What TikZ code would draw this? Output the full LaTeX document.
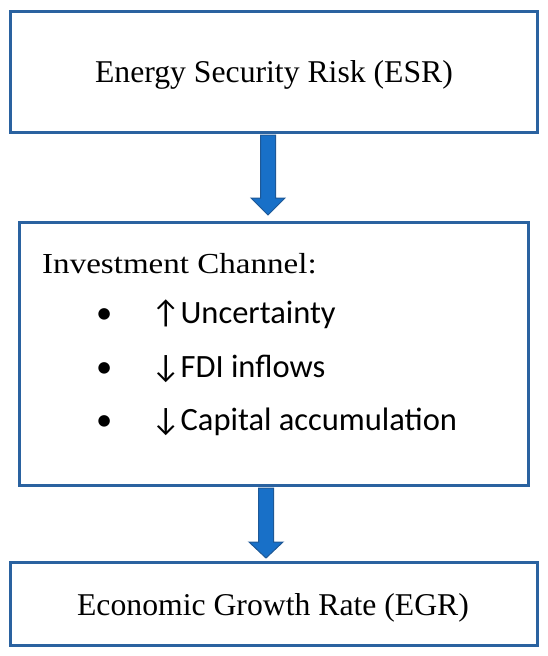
\documentclass[tikz,border=0pt]{standalone}
\usepackage{fontspec}
\setmainfont{Liberation Serif}
\newfontfamily\calib{Carlito}
\definecolor{boxblue}{RGB}{42,98,160}
\definecolor{arrfill}{RGB}{24,112,200}
\definecolor{arredge}{RGB}{30,88,150}
\tikzset{
  boxframe/.style={draw=boxblue, line width=3pt, fill=white},
  fatarrow/.style={fill=arrfill, draw=arredge, line width=1pt},
  sertext/.style={inner sep=0pt, anchor=base},
  caltext/.style={inner sep=0pt, anchor=base west, font=\calib\fontsize{32.5}{38}\selectfont},
}
\begin{document}
\begin{tikzpicture}[x=1pt,y=-1pt]
\useasboundingbox (0,0) rectangle (547,656);
% boxes
\draw[boxframe] (10.5,11) rectangle (537,132);
\draw[boxframe] (19.5,222) rectangle (528.5,485);
\draw[boxframe] (10.5,562) rectangle (537,645);
% texts
\node[sertext, font=\fontsize{31.7}{38}\selectfont] (esr) at (274,82) {Energy Security Risk (ESR)};
\node[sertext, anchor=base west, xscale=1.14, font=\fontsize{29}{34}\selectfont] (inv) at (42,273) {Investment Channel:};
\node[caltext] (bu1) at (96,323) {•};
\node[caltext] (bu2) at (96,377) {•};
\node[caltext] (bu3) at (96,430) {•};
\node[caltext] (t1) at (151,323) {↑Uncertainty};
\node[caltext] (t2) at (151,377) {↓FDI inflows};
\node[caltext] (t3) at (151,430) {↓Capital accumulation};
\node[sertext, font=\fontsize{31.7}{38}\selectfont] (egr) at (273,615) {Economic Growth Rate (EGR)};
% arrows
\draw[fatarrow] (260.5,135) -- (275.5,135) -- (275.5,198) -- (285,198) -- (268,215) -- (251,198) -- (260.5,198) -- cycle;
\draw[fatarrow] (258.5,488) -- (273.5,488) -- (273.5,542) -- (283,542) -- (266,558) -- (249,542) -- (258.5,542) -- cycle;
\end{tikzpicture}
\end{document}
